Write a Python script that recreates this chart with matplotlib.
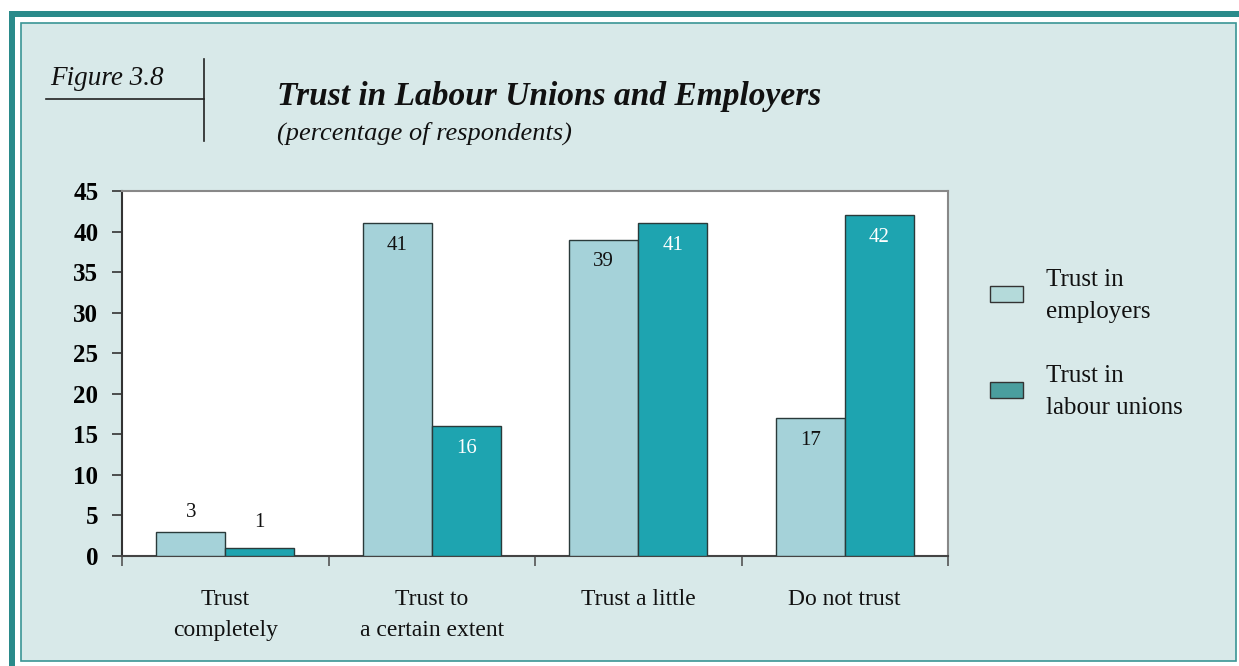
import matplotlib
matplotlib.use("Agg")
import matplotlib.pyplot as plt
from matplotlib.patches import Rectangle
from matplotlib.lines import Line2D
import numpy as np

categories = ["Trust\ncompletely", "Trust to\na certain extent", "Trust a little", "Do not trust"]
employers = [3, 41, 39, 17]
unions = [1, 16, 41, 42]
series_names = ["Trust in\nemployers", "Trust in\nlabour unions"]
yticks = [0, 5, 10, 15, 20, 25, 30, 35, 40, 45]

W, H = 1239, 666
fig = plt.figure(figsize=(W / 100, H / 100), dpi=100)
fig.patch.set_facecolor("white")
plt.rcParams['font.family'] = ['Liberation Serif', 'DejaVu Serif']

def px(x, y):
    return x / W, 1 - y / H

# outer teal frame band
r = fig.add_artist(Rectangle((9 / W, 0), 6 / W, 1 - 11 / H, transform=fig.transFigure,
                             facecolor="#2a8a8a", edgecolor="none"))
r.set_zorder(-3)
r = fig.add_artist(Rectangle((9 / W, 1 - 17 / H), 1 - 9 / W, 6 / H, transform=fig.transFigure,
                             facecolor="#2a8a8a", edgecolor="none"))
r.set_zorder(-3)
# inner panel
r = fig.add_artist(Rectangle((21 / W, 1 - 661 / H), (1236 - 21) / W, (661 - 23) / H,
                             transform=fig.transFigure, facecolor="#d8e9e9",
                             edgecolor="#3a9595", linewidth=1.2))
r.set_zorder(-2)

# figure label
fig.text(*px(50, 85), "Figure 3.8", fontsize=19.5, style="italic", ha="left", va="baseline",
         color="#111111")
fig.add_artist(Line2D([46 / W, 204 / W], [1 - 99 / H, 1 - 99 / H], transform=fig.transFigure,
                      color="#222222", linewidth=1.2))
fig.add_artist(Line2D([204 / W, 204 / W], [1 - 59 / H, 1 - 141 / H], transform=fig.transFigure,
                      color="#222222", linewidth=1.2))

# titles
fig.text(*px(277, 105), "Trust in Labour Unions and Employers", fontsize=24, fontweight="bold",
         style="italic", ha="left", va="baseline", color="#111111")
fig.text(*px(277, 140), "(percentage of respondents)", fontsize=19, style="italic",
         ha="left", va="baseline", color="#111111")

ax = fig.add_axes([122 / W, 1 - 556 / H, (948 - 122) / W, (556 - 191) / H])
ax.set_zorder(1)
ax.set_facecolor("white")
x = np.arange(len(categories))
w = 1 / 3
c_emp = "#a5d2d9"
c_uni = "#1ea4b0"
ax.bar(x - w / 2, employers, w, color=c_emp, edgecolor="#2a3a3a", linewidth=1.0, zorder=3)
ax.bar(x + w / 2, unions, w, color=c_uni, edgecolor="#2a3a3a", linewidth=1.0, zorder=3)

for xi, v in zip(x - w / 2, employers):
    if v >= 10:
        ax.annotate(str(v), (xi, v), xytext=(0, -16), textcoords="offset points",
                    ha="center", va="center", fontsize=15, color="#111111")
    else:
        ax.annotate(str(v), (xi, v), xytext=(0, 14), textcoords="offset points",
                    ha="center", va="center", fontsize=15, color="#111111")
for xi, v in zip(x + w / 2, unions):
    if v >= 10:
        ax.annotate(str(v), (xi, v), xytext=(0, -16), textcoords="offset points",
                    ha="center", va="center", fontsize=15, color="white")
    else:
        ax.annotate(str(v), (xi, v), xytext=(0, 18), textcoords="offset points",
                    ha="center", va="center", fontsize=15, color="#111111")

ax.set_xlim(-0.5, len(categories) - 0.5)
ax.set_ylim(0, 45)
ax.set_yticks(yticks)
ax.set_yticklabels([str(t) for t in yticks], fontsize=18, fontweight="bold")
ax.tick_params(axis="y", length=7, width=1.2, color="#333333", pad=10, direction="out")
ax.set_xticks(np.arange(len(categories) + 1) - 0.5, minor=False)
ax.set_xticklabels([])
ax.tick_params(axis="x", length=7, width=1.2, color="#555555", direction="out")
for xi, lab in zip(x, categories):
    ax.text(xi, -0.09, lab, transform=ax.get_xaxis_transform(), ha="center", va="top",
            fontsize=17, color="#111111", linespacing=1.65)

ax.spines["left"].set_color("#333333")
ax.spines["left"].set_linewidth(1.5)
ax.spines["bottom"].set_color("#444444")
ax.spines["bottom"].set_linewidth(1.5)
ax.spines["top"].set_color("#888888")
ax.spines["top"].set_linewidth(1.5)
ax.spines["right"].set_color("#888888")
ax.spines["right"].set_linewidth(1.5)

# legend
for (ly, col, name) in [(294, "#b4dada", series_names[0]), (390, "#4a9e9e", series_names[1])]:
    fig.add_artist(Rectangle((990 / W, 1 - (ly + 8) / H), 33 / W, 16 / H, transform=fig.transFigure,
                             facecolor=col, edgecolor="#333333", linewidth=1.0))
    fig.text(1046 / W, 1 - (ly + 2) / H, name, fontsize=18, ha="left", va="center",
             color="#111111", linespacing=1.6)

fig.savefig("out.png", dpi=100, facecolor=fig.get_facecolor())
